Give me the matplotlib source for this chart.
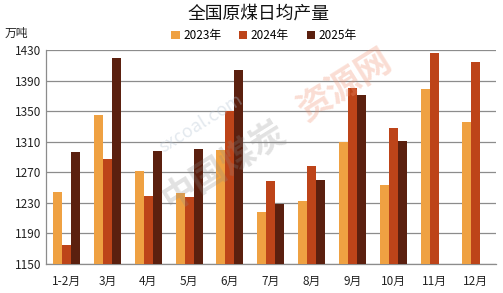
import matplotlib.pyplot as plt
import numpy as np

plt.rcParams['font.family'] = ['Noto Sans CJK SC', 'DejaVu Sans']

months = ['1-2月', '3月', '4月', '5月', '6月', '7月', '8月', '9月', '10月', '11月', '12月']
y2023 = [1244, 1345, 1272, 1243, 1299, 1218, 1232, 1310, 1253, 1379, 1336]
y2024 = [1175, 1287, 1239, 1238, 1350, 1259, 1278, 1380, 1328, 1426, 1414]
y2025 = [1297, 1420, 1298, 1300, 1404, 1229, 1260, 1371, 1311]
yticks = [1150, 1190, 1230, 1270, 1310, 1350, 1390, 1430]

colors = ['#EFA142', '#BD4419', '#5B200F']

fig = plt.figure(figsize=(5.03, 2.93), dpi=100)
ax = fig.add_axes([0.0915, 0.099, 0.894, 0.73])

x = np.arange(len(months))
w = 0.22
ax.bar(x - w, y2023, w, color=colors[0], label='2023年', zorder=3)
ax.bar(x, y2024, w, color=colors[1], label='2024年', zorder=3)
ax.bar(x[:len(y2025)] + w, y2025, w, color=colors[2], label='2025年', zorder=3)

ax.set_ylim(1150, 1430)
ax.set_yticks(yticks)
ax.set_xlim(-0.5, len(months) - 0.5)
ax.set_xticks(x)
ax.set_xticklabels(months)
ax.tick_params(length=0, labelsize=8.5, colors='#222222')
ax.tick_params(axis='x', pad=8)
ax.grid(axis='y', color='#8c8c8c', linewidth=0.9, zorder=0)
for s in ['top', 'right']:
    ax.spines[s].set_visible(False)
for s in ['left', 'bottom']:
    ax.spines[s].set_color('#8c8c8c')
    ax.spines[s].set_linewidth(0.9)

# watermark
fig.text(0.40, 0.58, 'sxcoal.com', fontsize=13, color='#b0c0d0', alpha=0.35,
         rotation=32, ha='center', va='center')
fig.text(0.447, 0.437, '中国煤炭', fontsize=25, color='#8a8a8a', alpha=0.25,
         rotation=32, ha='center', va='center', fontweight='bold')
fig.text(0.686, 0.71, '资源网', fontsize=25, color='#f09070', alpha=0.3,
         rotation=32, ha='center', va='center', fontweight='bold')

fig.text(0.513, 0.955, '全国原煤日均产量', fontsize=12.8, ha='center', va='center', color='#111111')
fig.text(0.01, 0.885, '万吨', fontsize=8.5, ha='left', va='center', color='#222222')

ax.legend(loc='lower center', bbox_to_anchor=(0.485, 1.005), ncol=3, frameon=False,
          fontsize=8.5, handlelength=0.7, handleheight=0.7, handletextpad=0.3,
          columnspacing=1.5, borderaxespad=0.2)

fig.savefig('out.png', dpi=100)
